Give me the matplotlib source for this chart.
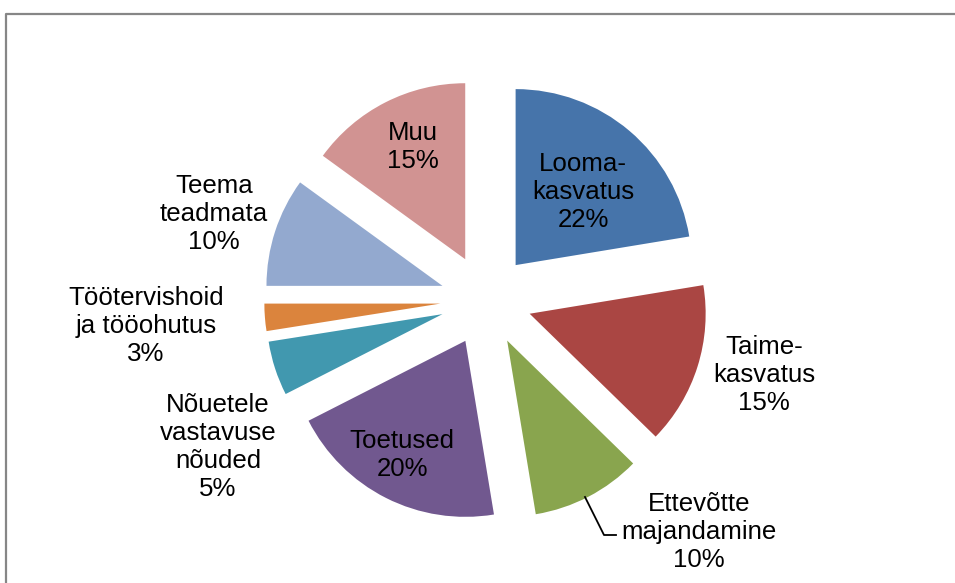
import matplotlib.pyplot as plt
from matplotlib.lines import Line2D

plt.rcParams['font.family'] = ['Liberation Sans', 'DejaVu Sans']

# Andmed (osakaal %, loetud sektorite nurkadest)
labels = ["Looma-\nkasvatus", "Taime-\nkasvatus", "Ettevõtte\nmajandamine", "Toetused",
          "Nõuetele\nvastavuse\nnõuded", "Töötervishoid\nja tööohutus", "Teema\nteadmata", "Muu"]
values = [22.4, 14.9, 10.1, 20.1, 5.0, 2.5, 10.0, 15.0]
pct_labels = ["22%", "15%", "10%", "20%", "5%", "3%", "10%", "15%"]
colors = ["#4674AA", "#AA4643", "#89A54E", "#71588F", "#4198AF", "#DB843D", "#93A9CF", "#D19392"]

# Sildi keskpunktid pikslites (x, y ülevalt)
label_px = [(583, 192), (764, 375), (699, 532), (402, 455),
            (218, 447), (146, 326), (214, 214), (413, 147)]

W, H = 955, 583
cx, cy, R = 486, 300, 176   # pirukas keskpunkt ja raadius pikslites

fig = plt.figure(figsize=(W / 100, H / 100), dpi=100)
ax = fig.add_axes([0, 0, 1, 1])

ax.pie(values, colors=colors, startangle=90, counterclock=False,
       explode=[0.26] * len(values), radius=1,
       wedgeprops=dict(linewidth=0))

ax.set_aspect('auto')
ax.set_xlim(-cx / R, (W - cx) / R)
ax.set_ylim(-(H - cy) / R, cy / R)
ax.axis('off')


def px2data(x, y):
    return (x - cx) / R, (cy - y) / R


for lab, pct, (px, py) in zip(labels, pct_labels, label_px):
    dx, dy = px2data(px, py)
    ax.text(dx, dy, f"{lab}\n{pct}", ha='center', va='center',
            fontsize=18.6, linespacing=1.22, color='black')

# Juhtjoon Ettevõtte majandamine sildile
pts = [px2data(585, 497), px2data(604, 535), px2data(616, 535)]
ax.plot([p[0] for p in pts], [p[1] for p in pts], color='black', linewidth=1.3)

# Diagrammi raam
fig.add_artist(Line2D([6 / W, 6 / W, 1.0], [0.0, 1 - 13.5 / H, 1 - 13.5 / H],
                      transform=fig.transFigure, color='#868686', linewidth=1.6))

fig.savefig("out.png", dpi=100)
